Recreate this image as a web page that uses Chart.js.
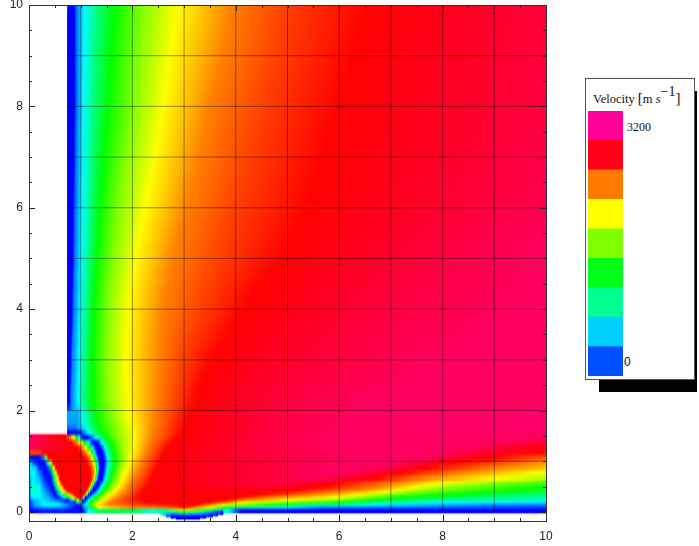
<!DOCTYPE html>
<html>
<head>
<meta charset="utf-8">
<script src="https://cdn.jsdelivr.net/npm/chart.js@4"></script>
<style>
  html, body { margin: 0; padding: 0; background: #fff; overflow: hidden; }
  #wrap { position: relative; width: 699px; height: 546px; }
  #field { position: absolute; left: 0; top: 0; }
  #shadow { position: absolute; left: 599px; top: 91px; width: 98px; height: 301px; background: #000; }
  #box { position: absolute; left: 585px; top: 78px; width: 108px; height: 300px; background: #fff; border: 1px solid #555; box-sizing: content-box; }
  #bar { position: absolute; left: 588px; top: 111px; }
  .lg { position: absolute; font-family: "Liberation Serif", serif; color: #111; white-space: nowrap; }
  #title { left: 593px; top: 91px; font-size: 12.5px; line-height: 14px; }
  #title sup { font-size: 14px; line-height: 0; position: relative; top: -1px; vertical-align: 6px; }
  #title .br { font-size: 15px; }
  #hi { left: 627px; top: 120px; font-size: 12px; line-height: 14px; }
  #lo { left: 624px; top: 355px; font-size: 12px; line-height: 14px; font-family: "Liberation Sans", sans-serif; }
</style>
</head>
<body>
<svg width="0" height="0" style="position:absolute">
  <filter id="softUpper" color-interpolation-filters="sRGB"><feGaussianBlur stdDeviation="0 4"/></filter>
  <filter id="softMiddle" color-interpolation-filters="sRGB"><feGaussianBlur stdDeviation="0 1.5"/></filter>
  <filter id="softLower" color-interpolation-filters="sRGB"><feGaussianBlur stdDeviation="0 0.8"/></filter>
</svg>
<div id="wrap">
  <canvas id="field" width="699" height="546"></canvas>
  <div id="shadow"></div>
  <div id="box"></div>
  <canvas id="bar" width="35" height="265"></canvas>
  <div class="lg" id="title">Velocity <span class="br">[</span>m <i>s</i><sup>&#8722;1</sup><span class="br">]</span></div>
  <div class="lg" id="hi">3200</div>
  <div class="lg" id="lo">0</div>
</div>
<script>
const xLabels = [0, 2, 4, 6, 8, 10];
const yLabels = [0, 2, 4, 6, 8, 10];
const minorTicks = [0.5, 1, 1.5, 2.5, 3, 3.5, 4.5, 5, 5.5, 6.5, 7, 7.5, 8.5, 9, 9.5];

const gridX = [1, 2, 3, 4, 5, 6, 7, 8, 9];
const gridXFrom = [0, 0, -0.12, 0, 0, 0, 0, 0, 0];
const gridY = [1, 2, 3, 4, 5, 6, 7, 8, 9];
const gridYFrom = [0, 0.75, 0.75, 0.75, 0.75, 0.75, 0.75, 0.75, 0.75];

const legendColors = ['#0050ff', '#00d0ff', '#00ff90', '#00ff18', '#80ff00', '#ffff00', '#ff7a00', '#ff0018', '#ff0098'];
const legendStep = [400];

// Velocity (m/s) read at each x along a row, upper part of the field
const upperLevels = [0, 0, 350, 700, 1060, 1410, 1765, 2120, 2470, 2650, 2820, 2915, 3000, 3090];
const upperY = [9.875, 9.625, 9.375, 9.125, 8.875, 8.625, 8.375, 8.125, 7.875, 7.625, 7.375, 7.125, 6.875, 6.625, 6.375, 6.125,
  5.875, 5.625, 5.375, 5.125, 4.875, 4.625, 4.375, 4.125, 3.875, 3.625, 3.375, 3.125, 2.875, 2.625, 2.375, 2.125];
const upperX = [
  [.75,.87,.93,1.07,1.31,1.66,2.19,2.87,3.92,4.97,6.56,8.38,10.46,12.96],
  [.75,.87,.93,1.07,1.30,1.64,2.16,2.83,3.87,4.92,6.49,8.33,10.4,12.9],
  [.75,.87,.93,1.06,1.29,1.62,2.14,2.79,3.82,4.87,6.42,8.28,10.3,12.9],
  [.75,.87,.93,1.06,1.28,1.59,2.11,2.75,3.77,4.82,6.34,8.23,10.25,12.8],
  [.75,.87,.93,1.06,1.28,1.57,2.09,2.71,3.72,4.77,6.26,8.18,10.18,12.76],
  [.75,.87,.93,1.06,1.27,1.56,2.06,2.68,3.66,4.71,6.19,8.12,10.12,12.7],
  [.75,.87,.93,1.05,1.26,1.55,2.04,2.65,3.6,4.64,6.11,8.07,10.08,12.62],
  [.75,.87,.93,1.05,1.25,1.53,2.01,2.62,3.53,4.58,6.03,8.02,10.02,12.54],
  [.75,.87,.93,1.05,1.25,1.52,1.98,2.58,3.47,4.52,5.96,7.95,9.94,12.42],
  [.75,.87,.92,1.05,1.24,1.5,1.95,2.54,3.42,4.46,5.88,7.85,9.82,12.25],
  [.75,.86,.92,1.04,1.23,1.47,1.92,2.5,3.37,4.39,5.81,7.75,9.69,12.1],
  [.75,.86,.92,1.04,1.22,1.45,1.89,2.46,3.32,4.33,5.74,7.65,9.56,11.9],
  [.75,.86,.92,1.04,1.22,1.43,1.85,2.42,3.27,4.26,5.66,7.55,9.44,11.7],
  [.75,.86,.91,1.04,1.21,1.42,1.81,2.37,3.21,4.19,5.58,7.45,9.31,11.5],
  [.75,.85,.91,1.03,1.2,1.4,1.77,2.32,3.15,4.11,5.51,7.35,9.19,11.3],
  [.75,.85,.91,1.03,1.19,1.38,1.74,2.27,3.09,4.04,5.43,7.25,9.06,11.1],
  [.75,.85,.9,1.03,1.19,1.37,1.71,2.23,3.03,3.96,5.34,7.09,8.88,10.9],
  [.75,.85,.9,1.02,1.18,1.35,1.68,2.18,2.96,3.89,5.21,6.88,8.63,10.6],
  [.75,.84,.9,1.02,1.17,1.34,1.66,2.13,2.9,3.81,5.09,6.66,8.38,10.4],
  [.75,.84,.89,1.01,1.16,1.32,1.63,2.08,2.83,3.74,4.96,6.44,8.13,10.1],
  [.75,.84,.89,1.01,1.15,1.3,1.61,2.04,2.77,3.66,4.81,6.22,7.88,9.94],
  [.75,.84,.88,1.0,1.14,1.29,1.58,2.0,2.72,3.57,4.6,6,7.6,9.8],
  [.75,.83,.88,1.0,1.13,1.27,1.55,1.96,2.67,3.48,4.4,5.75,7.3,9.7],
  [.75,.83,.87,.99,1.12,1.26,1.53,1.93,2.62,3.39,4.25,5.55,7.1,9.55],
  [.75,.82,.87,.99,1.11,1.25,1.52,1.91,2.59,3.31,4.1,5.4,6.85,9.25],
  [.75,.82,.86,.98,1.1,1.24,1.51,1.9,2.58,3.2,3.95,5.15,6.6,8.75],
  [.75,.81,.85,.98,1.09,1.23,1.5,1.89,2.56,3.1,3.8,4.9,6.35,8.5],
  [.75,.8,.84,.97,1.08,1.22,1.49,1.88,2.55,3.03,3.62,4.7,6.1,8.2],
  [.75,.8,.84,.97,1.08,1.22,1.48,1.87,2.54,2.98,3.5,4.5,5.85,7.85],
  [.75,.79,.83,.96,1.08,1.22,1.49,1.88,2.53,2.93,3.38,4.3,5.5,7.5],
  [.75,.78,.82,.95,1.07,1.22,1.5,1.9,2.51,2.88,3.26,4.1,5.2,7.1],
  [.75,.78,.82,.95,1.07,1.22,1.5,1.92,2.5,2.85,3.2,4.0,5,6.5]
];

// Middle part of the field, rows of x,velocity pairs
const middleY = [1.95, 1.85, 1.75, 1.65, 1.55, 1.45, 1.35, 1.25, 1.15, 1.05, 0.95, 0.85, 0.75, 0.65];
const middleRows = [
  [.75,470,.95,470,1.02,700,1.15,1060,1.3,1410,1.58,1765,1.93,2120,2.45,2470,2.78,2650,3.1,2820,3.95,2915,4.9,3000,6.4,3090,10,3120],
  [.75,450,.95,470,1.02,700,1.15,1060,1.31,1410,1.6,1765,1.95,2120,2.44,2470,2.76,2650,3.07,2820,3.9,2915,4.85,3000,6.3,3090,10,3120],
  [.75,430,.96,470,1.03,700,1.17,1060,1.33,1410,1.62,1765,1.97,2120,2.43,2470,2.74,2650,3.03,2820,3.87,2915,4.8,3000,6.2,3090,10,3120],
  [.75,300,.9,350,1.0,550,1.1,800,1.22,1060,1.36,1410,1.65,1765,2.0,2120,2.42,2470,2.72,2650,3.0,2820,3.85,2915,4.75,3000,6.1,3090,10,3120],
  [.75,0,.98,0,1.06,350,1.15,700,1.27,1060,1.42,1410,1.68,1765,2.02,2120,2.4,2470,2.7,2650,2.95,2820,3.8,2915,4.65,3000,6,3090,10,3090],
  [0,3090,.35,2950,.7,2820,.8,2470,.86,2120,.92,1410,.98,700,1.04,0,1.13,0,1.22,350,1.3,700,1.38,1060,1.5,1410,1.7,1765,2.03,2120,2.38,2470,2.65,2650,2.85,2820,3.75,2915,4.55,3000,5.9,3090,9.6,3090,10,3050],
  [0,3090,.4,2950,.82,2820,.92,2470,1.0,2120,1.08,1410,1.15,700,1.23,0,1.33,0,1.41,700,1.48,1060,1.58,1410,1.75,1765,2.02,2120,2.33,2470,2.55,2650,2.75,2820,3.7,2915,4.5,3000,5.9,3090,9,3090,10,2960],
  [0,3060,.4,2950,.94,2820,1.03,2470,1.1,2120,1.17,1410,1.23,700,1.29,0,1.38,0,1.47,700,1.53,1060,1.61,1410,1.77,1765,2.01,2120,2.3,2470,2.5,2650,2.68,2820,3.65,2915,4.5,3000,6,3090,8.6,3090,9.5,2915,10,2870],
  [0,2600,.2,2650,.3,2850,1.01,2820,1.1,2470,1.17,2120,1.22,1410,1.27,700,1.32,0,1.42,0,1.5,700,1.56,1060,1.63,1410,1.78,1765,1.99,2120,2.27,2470,2.46,2650,2.62,2820,3.6,2915,4.6,3000,6.1,3090,8.1,3090,9,2915,9.9,2820,10,2790],
  [0,0,.2,0,.28,350,.33,1765,.38,2820,1.08,2820,1.17,2470,1.22,2120,1.27,1410,1.3,700,1.35,0,1.44,0,1.52,700,1.58,1060,1.65,1410,1.8,1765,1.96,2120,2.22,2470,2.4,2650,2.57,2820,3.6,2915,4.8,3000,6.2,3090,7.6,3090,8.3,2915,9,2820,10,2560],
  [0,700,.1,200,.2,0,.3,0,.37,700,.42,2120,.47,2820,1.12,2820,1.21,2470,1.26,2120,1.3,1410,1.33,700,1.36,0,1.45,0,1.53,700,1.58,1060,1.65,1410,1.78,1765,1.94,2120,2.18,2470,2.36,2650,2.52,2820,3.6,2915,4.9,3000,6,3090,7.2,3090,7.8,2915,8.2,2820,9.7,2470,10,2400],
  [0,700,.12,600,.2,150,.32,0,.39,300,.44,1410,.48,2120,.52,2820,1.16,2820,1.24,2470,1.28,2120,1.31,1410,1.34,700,1.37,0,1.44,0,1.52,700,1.57,1060,1.64,1410,1.75,1765,1.9,2120,2.14,2470,2.32,2650,2.47,2820,3.6,2915,4.9,3000,5.8,3090,6.8,3090,7.3,2915,7.7,2820,9,2470,10,2280],
  [0,600,.1,700,.2,350,.3,0,.4,100,.47,1060,.52,2120,.56,2820,1.18,2820,1.25,2470,1.28,2120,1.31,1410,1.33,700,1.36,0,1.43,0,1.5,700,1.55,1060,1.61,1410,1.72,1765,1.86,2120,2.09,2470,2.27,2650,2.42,2820,3.6,2915,4.8,3000,5.5,3090,6,3090,6.8,2915,7.2,2820,8.3,2470,9.8,2120,10,2090],
  [0,450,.08,700,.2,500,.3,100,.42,0,.49,1060,.55,2120,.6,2820,1.19,2820,1.24,2470,1.27,2120,1.29,1410,1.31,700,1.34,0,1.41,0,1.48,700,1.53,1060,1.58,1410,1.68,1765,1.81,2120,2.03,2470,2.21,2650,2.37,2820,3.65,2915,4.7,3000,5.6,3060,6.4,2915,6.7,2820,7.6,2470,9,2120,10,1900]
];

// Bottom of the field, finer rows, the last ones are the dip around x=3
const lowerY = [0.575, 0.525, 0.475, 0.425, 0.375, 0.325, 0.275, 0.225, 0.175, 0.125, 0.075, 0.025, -0.01, -0.035, -0.06, -0.085, -0.105];
const lowerRows = [
  [0,350,.07,750,.2,600,.32,150,.43,0,.51,1060,.57,2120,.63,2820,1.17,2820,1.21,2470,1.24,2120,1.26,1410,1.28,700,1.31,0,1.38,0,1.45,700,1.5,1060,1.55,1410,1.65,1765,1.78,2120,1.98,2470,2.17,2650,2.34,2820,3.7,2915,4.8,3000,5.6,2950,6,2820,7.2,2470,8,2120,9.5,1765,10,1620],
  [0,350,.06,800,.2,650,.33,200,.44,0,.52,1060,.58,2120,.66,2820,1.16,2820,1.19,2470,1.21,2120,1.23,1410,1.25,700,1.28,0,1.35,0,1.42,700,1.47,1060,1.52,1410,1.62,1765,1.75,2120,1.95,2470,2.13,2650,2.31,2820,3.7,2915,4.8,3000,5.4,2915,5.85,2820,6.9,2470,7.75,2120,8.7,1765,10,1500],
  [0,320,.06,850,.2,700,.33,250,.46,0,.54,1060,.61,2120,.69,2820,1.14,2820,1.17,2470,1.19,2120,1.21,1410,1.23,700,1.25,0,1.33,0,1.39,700,1.44,1060,1.49,1410,1.6,1765,1.72,2120,1.92,2470,2.1,2650,2.28,2820,3.75,2915,4.6,2950,5.6,2820,6.8,2470,7.45,2120,8.25,1765,10,1410],
  [0,300,.05,900,.2,780,.34,320,.47,0,.56,1060,.64,2120,.73,2820,1.11,2820,1.14,2470,1.16,2120,1.18,1410,1.2,700,1.22,0,1.29,0,1.36,700,1.41,1060,1.46,1410,1.56,1765,1.68,2120,1.89,2470,2.07,2650,2.24,2820,3.8,2880,5.2,2820,6.4,2470,7.15,2120,7.8,1765,9.4,1410,10,1300],
  [0,280,.05,850,.2,800,.35,380,.49,0,.59,1060,.68,2120,.78,2820,1.09,2820,1.11,2470,1.13,2120,1.15,1410,1.17,700,1.19,0,1.25,0,1.32,700,1.37,1060,1.42,1410,1.51,1765,1.63,2120,1.84,2470,2.03,2650,2.2,2820,3.8,2860,4.85,2820,6,2470,6.85,2120,7.4,1765,8.65,1410,10,1230],
  [0,220,.05,750,.2,720,.36,430,.51,0,.62,700,.7,1410,.78,2120,.88,2820,1.06,2820,1.08,2470,1.1,2120,1.12,1410,1.13,700,1.15,0,1.19,0,1.26,700,1.31,1060,1.36,1410,1.45,1765,1.57,2120,1.79,2470,1.98,2650,2.17,2820,3.9,2840,4.45,2820,5.4,2470,6.35,2120,6.95,1765,7.95,1410,10,1060],
  [0,180,.05,650,.2,680,.38,470,.56,0,.68,700,.77,1410,.85,2120,.94,2820,1.03,2820,1.05,2120,1.07,700,1.09,0,1.13,0,1.2,700,1.25,1060,1.3,1410,1.38,1765,1.5,2120,1.72,2470,1.9,2650,2.15,2820,4.05,2820,4.7,2470,5.9,2120,6.5,1765,7.2,1410,9,1060,10,950],
  [0,120,.08,500,.25,650,.45,450,.65,100,.75,0,.83,700,.9,1410,.95,2120,.98,2650,1.0,2400,1.03,300,1.05,0,1.1,0,1.15,700,1.2,1060,1.25,1410,1.33,1765,1.44,2120,1.65,2470,1.9,2650,2.2,2820,3.8,2820,4.2,2470,5,2120,6.05,1765,6.6,1410,7.5,1060,10,850],
  [0,80,.1,450,.3,700,.55,550,.75,150,.88,0,.94,700,.98,1410,1.0,1060,1.03,0,1.07,200,1.11,700,1.16,1060,1.2,1410,1.27,1765,1.37,2120,1.55,2470,1.9,2650,2.3,2820,3.5,2820,3.85,2470,4.1,2120,4.85,1765,6.05,1410,6.65,1060,8.2,700,10,650],
  [0,40,.1,450,.3,700,.6,680,.8,300,.95,0,1.03,350,1.08,700,1.13,1060,1.18,1410,1.23,1765,1.3,2120,1.55,2470,2.1,2650,2.6,2780,3.25,2820,3.45,2470,3.75,2120,4.1,1765,4.7,1410,5.4,1060,6.6,700,8.8,350,10,300],
  [0,0,.1,300,.35,450,.65,400,.85,100,1.0,0,1.1,500,1.17,1060,1.25,1410,1.35,2120,1.7,2300,2,2470,2.4,2450,2.8,2600,3,2820,3.2,2470,3.5,2120,3.65,1765,3.8,1410,4,1060,5,700,5.7,350,10,180],
  [0,0,.3,80,.7,60,1.03,0,1.15,700,1.3,1060,1.5,1200,2,1200,2.4,800,2.6,1100,3,2120,3.3,1765,3.5,1410,3.65,1060,3.85,700,4.1,0,10,0],
  [2.55,900,3,1700,3.3,1300,3.5,800,3.75,0],
  [2.6,600,3,1300,3.3,800,3.5,450,3.65,0],
  [2.66,300,2.8,500,3,800,3.3,500,3.55,0],
  [2.75,0,3,300,3.25,200,3.42,0],
  [2.85,0,3.3,0]
];

function velocityColor(v) {
  return 'hsl(' + (240 - v * 0.085) + ',100%,50%)';
}

// turn [x,v,x,v...] into {y, x:[a,b], knots}
function pairsToBar(y, flat) {
  const knots = [];
  for (let i = 0; i < flat.length; i += 2) knots.push([flat[i], flat[i + 1]]);
  return { y: y, x: [knots[0][0], Math.min(knots[knots.length - 1][0], 10)], knots: knots };
}

const upperBars = upperY.map((y, r) => ({
  y: y,
  x: [upperX[r][0], 10],
  knots: upperX[r].map((x, i) => [x, upperLevels[i]])
}));
const middleBars = middleY.map((y, r) => pairsToBar(y, middleRows[r]));
const lowerBars = lowerY.map((y, r) => pairsToBar(y, lowerRows[r]));

function rowFill(ctx) {
  const chart = ctx.chart;
  if (!chart.chartArea || ctx.type !== 'data' || !ctx.raw) return '#fff';
  const knots = ctx.raw.knots, xs = chart.scales.x;
  const a = knots[0][0], b = knots[knots.length - 1][0];
  const g = chart.ctx.createLinearGradient(xs.getPixelForValue(a), 0, xs.getPixelForValue(b), 0);
  knots.forEach(k => g.addColorStop(b > a ? (k[0] - a) / (b - a) : 0, velocityColor(k[1])));
  return g;
}

function rowSet(data, thickness, order) {
  return {
    type: 'bar', indexAxis: 'y', data: data, order: order,
    barThickness: thickness, grouped: false, borderWidth: 0, borderSkipped: false,
    backgroundColor: rowFill
  };
}

function gridLine(points) {
  return {
    type: 'line', data: points, order: 1, parsing: { xAxisKey: 'x', yAxisKey: 'y' },
    borderColor: 'rgba(0,0,0,0.42)', borderWidth: 1, pointRadius: 0, fill: false, tension: 0
  };
}

const gridSets = [];
gridX.forEach((x, i) => gridSets.push(gridLine([{ x: x, y: gridXFrom[i] }, { x: x, y: 10 }])));
gridY.forEach((y, i) => gridSets.push(gridLine([{ x: gridYFrom[i], y: y }, { x: 10, y: y }])));

// smooth the steps between rows, once all rows are drawn and before the grid
function softenBand(chart, from, to, filter) {
  const c = chart.ctx, a = chart.chartArea, ys = chart.scales.y;
  const top = ys.getPixelForValue(from), bottom = ys.getPixelForValue(to);
  c.save();
  c.beginPath();
  c.rect(a.left, top, a.right - a.left, bottom - top);
  c.clip();
  c.filter = filter;
  c.drawImage(c.canvas, 0, 0);
  c.restore();
}

const softRows = {
  id: 'softRows',
  afterDatasetDraw(chart, args) {
    if (args.meta.order !== 2) return;
    softenBand(chart, 9.85, 2.02, 'url(#softUpper)');
    softenBand(chart, 2.0, 0.62, 'url(#softMiddle)');
    softenBand(chart, 0.62, -0.18, 'url(#softLower)');
  },
  afterDatasetsDraw(chart) {
    softenBand(chart, 10, -0.18, 'blur(0.5px)');
  }
};

const frameTicks = {
  id: 'frameTicks',
  afterDraw(chart) {
    const c = chart.ctx, a = chart.chartArea, xs = chart.scales.x, ys = chart.scales.y;
    c.save();
    c.strokeStyle = '#222';
    c.lineWidth = 1;
    c.beginPath();
    function mark(v, len) {
      const px = Math.round(xs.getPixelForValue(v)) + 0.5, py = Math.round(ys.getPixelForValue(v)) + 0.5;
      c.moveTo(px, a.bottom); c.lineTo(px, a.bottom - len);
      c.moveTo(px, a.top); c.lineTo(px, a.top + len);
      c.moveTo(a.left, py); c.lineTo(a.left + len, py);
      c.moveTo(a.right, py); c.lineTo(a.right - len, py);
    }
    minorTicks.forEach(v => mark(v, 3));
    xLabels.forEach(v => mark(v, 6));
    c.stroke();
    c.strokeStyle = '#333';
    c.strokeRect(a.left + 0.5, a.top + 0.5, a.right - a.left, a.bottom - a.top);
    c.restore();
  }
};

const tickFont = { family: '"Liberation Sans", sans-serif', size: 12 };

new Chart(document.getElementById('field'), {
  type: 'bar',
  data: { datasets: gridSets.concat([rowSet(lowerBars, 3, 2), rowSet(middleBars, 6, 3), rowSet(upperBars, 14, 4)]) },
  options: {
    responsive: false,
    animation: false,
    events: [],
    layout: { padding: { top: 5, right: 153, left: 0, bottom: 0 } },
    plugins: { legend: { display: false }, tooltip: { enabled: false } },
    scales: {
      x: {
        type: 'linear', min: 0, max: 10, offset: false,
        grid: { display: false, offset: false, drawTicks: false }, border: { display: false },
        afterBuildTicks: s => { s.ticks = xLabels.map(v => ({ value: v })); },
        afterFit: s => { s.height = 25; s.paddingLeft = 0; s.paddingRight = 0; },
        ticks: { font: tickFont, color: '#222', padding: 8, maxRotation: 0, autoSkip: false }
      },
      y: {
        type: 'linear', min: -0.18, max: 10, offset: false,
        grid: { display: false, offset: false, drawTicks: false }, border: { display: false },
        afterBuildTicks: s => { s.ticks = yLabels.map(v => ({ value: v })); },
        afterFit: s => { s.width = 29; s.paddingTop = 0; s.paddingBottom = 0; },
        ticks: { font: tickFont, color: '#222', padding: 6, autoSkip: false }
      }
    }
  },
  plugins: [softRows, frameTicks]
});

new Chart(document.getElementById('bar'), {
  type: 'bar',
  data: {
    labels: [''],
    datasets: legendColors.map(color => ({
      data: legendStep, backgroundColor: color, borderWidth: 0,
      barPercentage: 1, categoryPercentage: 1
    }))
  },
  options: {
    responsive: false,
    animation: false,
    events: [],
    plugins: { legend: { display: false }, tooltip: { enabled: false } },
    scales: {
      x: { stacked: true, display: false },
      y: { stacked: true, display: false, min: 0, max: 3600 }
    }
  }
});
</script>
</body>
</html>
